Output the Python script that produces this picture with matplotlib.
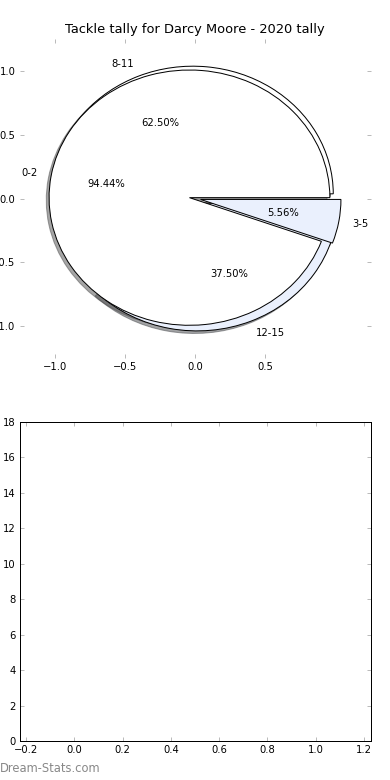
import matplotlib
matplotlib.use("Agg")
import matplotlib.pyplot as plt

# Data
title = "Tackle tally for Darcy Moore - 2020 tally"
labels_a = ["0-2", "3-5"]
values_a = [17, 1]
labels_b = ["8-11", "12-15"]
values_b = [5, 3]
explode_a = [0.04, 0.04]
explode_b = [0.04, 0.04]
colors = ["white", "#eaf0fd"]
pie_xticks = [-1.0, -0.5, 0.0, 0.5]
pie_yticks = [-1.0, -0.5, 0.0, 0.5, 1.0]
bar_yticks = list(range(0, 19, 2))
bar_xticks = [-0.2, 0.0, 0.2, 0.4, 0.6, 0.8, 1.0, 1.2]

plt.rcParams['font.family'] = ['DejaVu Sans']
fig, (ax1, ax2) = plt.subplots(2, 1, figsize=(390 / 72, 780 / 72), dpi=72)
fig.subplots_adjust(left=0.05, right=0.95, bottom=0.05, top=0.95, hspace=0.2)

wp = {'edgecolor': 'black', 'linewidth': 1.0}
tp = {'fontsize': 10}
ax1.pie(values_b, labels=labels_b, explode=explode_b, colors=colors,
        autopct='%.2f%%', shadow=True, wedgeprops=wp, textprops=tp)
ax1.pie(values_a, labels=labels_a, explode=explode_a, colors=colors,
        autopct='%.2f%%', shadow=True, wedgeprops=wp, textprops=tp)
ax1.set_aspect('auto')
ax1.set_frame_on(False)
ax1.set_xlim(-1.25, 1.25)
ax1.set_ylim(-1.25, 1.25)
ax1.set_xticks(pie_xticks)
ax1.set_yticks(pie_yticks)
ax1.set_title(title, fontsize=13)

for ax in (ax1, ax2):
    ax.tick_params(direction='in', length=4, width=1, color='#bbbbbb',
                   top=True, right=True, labelsize=10, pad=4)

ax2.set_xlim(-0.228, 1.228)
ax2.set_ylim(0, 18)
ax2.set_xticks(bar_xticks)
ax2.set_yticks(bar_yticks)
for s in ax2.spines.values():
    s.set_linewidth(1.0)
    s.set_color('black')

fig.text(0.0, 1 - 769 / 780, "Dream-Stats.com", fontsize=11.5,
         color='#888888', ha='left', va='center')

fig.savefig("out.png", dpi=72)
